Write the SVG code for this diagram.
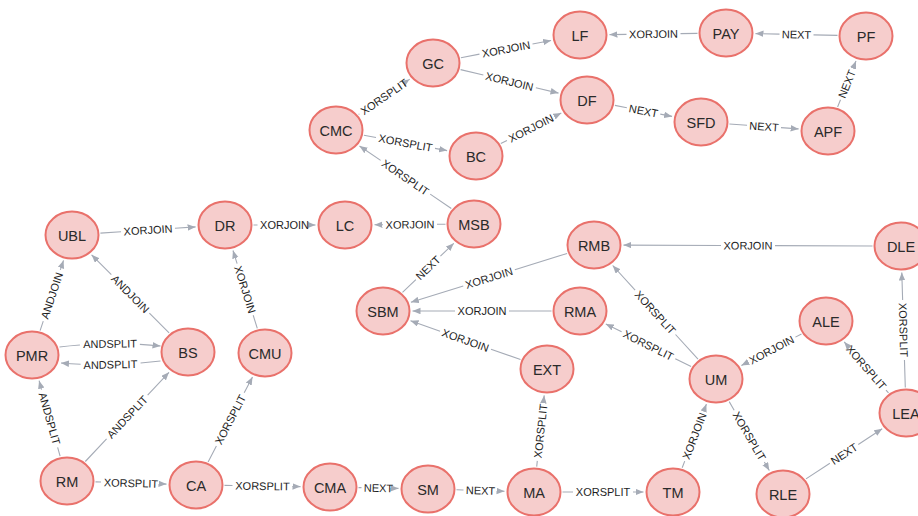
<svg xmlns="http://www.w3.org/2000/svg" width="918" height="516" viewBox="0 0 918 516">
  <defs>
    <marker id="arrow" markerUnits="userSpaceOnUse" markerWidth="9" markerHeight="7" refX="8" refY="3.25" orient="auto">
      <path d="M0,0 L8,3.25 L0,6.5 Z" fill="#a5abb6"/>
    </marker>
  </defs>
  <style>
    .bg { fill: #ffffff; }
    .edges path { fill: none; stroke: #a5abb6; stroke-width: 1.1; marker-end: url(#arrow); }
    .elabel { font-family: "Liberation Sans", Arial, sans-serif; font-size: 11px; fill: #1e1e1e; text-anchor: middle; dominant-baseline: central; }
    .node ellipse { fill: #f6cdcc; stroke: #e9716b; stroke-width: 2; }
    .node text { font-family: "Liberation Sans", Arial, sans-serif; font-size: 14.5px; fill: #2a2a2a; text-anchor: middle; dominant-baseline: central; }
  </style>
  <rect class="bg" x="0" y="0" width="918" height="516"/>

  <!-- relationships: the dash gap leaves room for the label -->
  <g id="connectors" class="edges">
    <path d="M460.9,57.7 L551.1,40.5" stroke-dasharray="18.9 54 999"/>
    <path d="M460.6,69.6 L558.5,93.1" stroke-dasharray="23.4 54 999"/>
    <path d="M358.6,114.4 L409.6,79.2" stroke-dasharray="1 60 999"/>
    <path d="M363.9,135.2 L447.1,150.6" stroke-dasharray="12.3 60 999"/>
    <path d="M500.8,143.5 L561.3,113.0" stroke-dasharray="6.9 54 999"/>
    <path d="M697.5,33.4 L609.5,34.6" stroke-dasharray="17 54 999"/>
    <path d="M837.5,35.4 L755.5,33.6" stroke-dasharray="24 34 999"/>
    <path d="M614.9,105.4 L672.1,116.4" stroke-dasharray="12.2 34 999"/>
    <path d="M729.4,124.0 L798.6,128.9" stroke-dasharray="17.7 34 999"/>
    <path d="M837.6,107.0 L856.0,61.0" stroke-dasharray="7.8 34 999"/>
    <path d="M451.3,208.5 L359.5,146.0" stroke-dasharray="25.5 60 999"/>
    <path d="M445.5,224.2 L374.5,224.8" stroke-dasharray="8.5 54 999"/>
    <path d="M253.5,225 L315.5,225" stroke-dasharray="4 54 999"/>
    <path d="M100.4,233.1 L195.6,226.9" stroke-dasharray="20.7 54 999"/>
    <path d="M257.3,328.4 L233.0,250.5" stroke-dasharray="13.8 54 999"/>
    <path d="M40.1,330.6 L63.5,260.4" stroke-dasharray="10 54 999"/>
    <path d="M169.1,332.9 L91.6,254.8" stroke-dasharray="28 54 999"/>
    <path d="M59.5,347 Q110,341 160.5,346" stroke-dasharray="20.5 60 999"/>
    <path d="M160.5,361 Q110,367 61,363" stroke-dasharray="20 60 999"/>
    <path d="M60.1,456.2 L39.1,380.7" stroke-dasharray="9.2 60 999"/>
    <path d="M85.3,461.5 L169.0,372.3" stroke-dasharray="31.1 60 999"/>
    <path d="M95.5,481.9 L166.5,484.1" stroke-dasharray="5.5 60 999"/>
    <path d="M208.1,461.9 L252.5,377.0" stroke-dasharray="17.9 60 999"/>
    <path d="M224.5,485.4 L300.5,486.6" stroke-dasharray="8 60 999"/>
    <path d="M358.5,487.6 L398.5,488.4" stroke-dasharray="3 34 999"/>
    <path d="M456.5,489.8 L504.5,491.2" stroke-dasharray="7 34 999"/>
    <path d="M536.7,466.6 L544.2,395.4" stroke-dasharray="5.8 60 999"/>
    <path d="M562.5,492 L643.5,492" stroke-dasharray="10.5 60 999"/>
    <path d="M682.2,467.8 L706.4,404.1" stroke-dasharray="7.1 54 999"/>
    <path d="M729.2,401.6 L769.3,470.5" stroke-dasharray="9.9 60 999"/>
    <path d="M806.0,478.9 L882.2,428.7" stroke-dasharray="28.6 34 999"/>
    <path d="M888.5,392.9 L844.2,341.9" stroke-dasharray="3.8 60 999"/>
    <path d="M905.3,387.5 L901.8,272.5" stroke-dasharray="27.5 60 999"/>
    <path d="M801.5,333.9 L741.4,365.6" stroke-dasharray="6.9 54 999"/>
    <path d="M698.0,359.2 L612.7,265.5" stroke-dasharray="33.4 60 999"/>
    <path d="M691.1,366.6 L605.8,323.9" stroke-dasharray="17.7 60 999"/>
    <path d="M872.5,246 L623.5,245.1" stroke-dasharray="97.5 54 999"/>
    <path d="M567.1,253.4 L410.9,302.3" stroke-dasharray="54.8 54 999"/>
    <path d="M551.5,311 L412.5,311" stroke-dasharray="42.5 54 999"/>
    <path d="M520.5,359.6 L410.5,320.7" stroke-dasharray="31.3 54 999"/>
    <path d="M402.5,292.4 L453.8,243.3" stroke-dasharray="18.5 34 999"/>

    <text class="elabel" transform="translate(506.0 49.1) rotate(-10.78)">XORJOIN</text>
    <text class="elabel" transform="translate(509.5 81.4) rotate(13.51)">XORJOIN</text>
    <text class="elabel" transform="translate(384.1 96.8) rotate(-34.63)">XORSPLIT</text>
    <text class="elabel" transform="translate(405.5 142.9) rotate(10.52)">XORSPLIT</text>
    <text class="elabel" transform="translate(531.0 128.2) rotate(-26.77)">XORJOIN</text>
    <text class="elabel" transform="translate(653.5 34.0) rotate(-0.78)">XORJOIN</text>
    <text class="elabel" transform="translate(796.5 34.5) rotate(1.23)">NEXT</text>
    <text class="elabel" transform="translate(643.5 110.9) rotate(10.92)">NEXT</text>
    <text class="elabel" transform="translate(764.0 126.5) rotate(4.05)">NEXT</text>
    <text class="elabel" transform="translate(846.8 84.0) rotate(-68.2)">NEXT</text>
    <text class="elabel" transform="translate(405.4 177.3) rotate(34.26)">XORSPLIT</text>
    <text class="elabel" transform="translate(410 224.5) rotate(-0.44)">XORJOIN</text>
    <text class="elabel" transform="translate(284.5 225)">XORJOIN</text>
    <text class="elabel" transform="translate(148.0 230.0) rotate(-3.74)">XORJOIN</text>
    <text class="elabel" transform="translate(245.2 289.5) rotate(72.65)">XORJOIN</text>
    <text class="elabel" transform="translate(51.8 295.5) rotate(-71.57)">ANDJOIN</text>
    <text class="elabel" transform="translate(130.4 293.9) rotate(45.25)">ANDJOIN</text>
    <text class="elabel" transform="translate(110 343.7) rotate(-0.6)">ANDSPLIT</text>
    <text class="elabel" transform="translate(110.4 364.5) rotate(-1.15)">ANDSPLIT</text>
    <text class="elabel" transform="translate(49.6 418.5) rotate(74.48)">ANDSPLIT</text>
    <text class="elabel" transform="translate(127.2 416.9) rotate(-46.83)">ANDSPLIT</text>
    <text class="elabel" transform="translate(131 483) rotate(1.78)">XORSPLIT</text>
    <text class="elabel" transform="translate(230.3 419.5) rotate(-62.4)">XORSPLIT</text>
    <text class="elabel" transform="translate(262.5 486) rotate(0.86)">XORSPLIT</text>
    <text class="elabel" transform="translate(378.5 488) rotate(1.17)">NEXT</text>
    <text class="elabel" transform="translate(480.5 490.5) rotate(1.62)">NEXT</text>
    <text class="elabel" transform="translate(540.5 431.0) rotate(-83.97)">XORSPLIT</text>
    <text class="elabel" transform="translate(603 492)">XORSPLIT</text>
    <text class="elabel" transform="translate(694.3 436.0) rotate(-69.16)">XORJOIN</text>
    <text class="elabel" transform="translate(749.3 436.1) rotate(59.78)">XORSPLIT</text>
    <text class="elabel" transform="translate(844.1 453.8) rotate(-33.36)">NEXT</text>
    <text class="elabel" transform="translate(866.3 367.4) rotate(49.0)">XORSPLIT</text>
    <text class="elabel" transform="translate(903.5 330) rotate(88.29)">XORSPLIT</text>
    <text class="elabel" transform="translate(771.5 349.8) rotate(-27.8)">XORJOIN</text>
    <text class="elabel" transform="translate(655.3 312.4) rotate(47.68)">XORSPLIT</text>
    <text class="elabel" transform="translate(648.4 345.2) rotate(26.57)">XORSPLIT</text>
    <text class="elabel" transform="translate(748 245.5) rotate(0.19)">XORJOIN</text>
    <text class="elabel" transform="translate(489.0 277.9) rotate(-17.37)">XORJOIN</text>
    <text class="elabel" transform="translate(482 311)">XORJOIN</text>
    <text class="elabel" transform="translate(465.5 340.2) rotate(19.48)">XORJOIN</text>
    <text class="elabel" transform="translate(428.1 267.8) rotate(-43.71)">NEXT</text>
  </g>

  <!-- nodes -->
  <g id="n-LF" class="node"><ellipse cx="580" cy="35" rx="26.5" ry="23.5"/><text x="580" y="36">LF</text></g>
  <g id="n-PAY" class="node"><ellipse cx="726" cy="33" rx="26.5" ry="23.5"/><text x="726" y="34">PAY</text></g>
  <g id="n-PF" class="node"><ellipse cx="866" cy="36" rx="26.5" ry="23.5"/><text x="866" y="37">PF</text></g>
  <g id="n-GC" class="node"><ellipse cx="433" cy="63" rx="26.5" ry="23.5"/><text x="433" y="64">GC</text></g>
  <g id="n-DF" class="node"><ellipse cx="587" cy="100" rx="26.5" ry="23.5"/><text x="587" y="101">DF</text></g>
  <g id="n-SFD" class="node"><ellipse cx="701" cy="122" rx="26.5" ry="23.5"/><text x="701" y="123">SFD</text></g>
  <g id="n-APF" class="node"><ellipse cx="828" cy="131" rx="26.5" ry="23.5"/><text x="828" y="132">APF</text></g>
  <g id="n-CMC" class="node"><ellipse cx="336" cy="130" rx="26.5" ry="23.5"/><text x="336" y="131">CMC</text></g>
  <g id="n-BC" class="node"><ellipse cx="476" cy="156" rx="26.5" ry="23.5"/><text x="476" y="157">BC</text></g>
  <g id="n-UBL" class="node"><ellipse cx="72" cy="235" rx="26.5" ry="23.5"/><text x="72" y="236">UBL</text></g>
  <g id="n-DR" class="node"><ellipse cx="225" cy="225" rx="26.5" ry="23.5"/><text x="225" y="226">DR</text></g>
  <g id="n-LC" class="node"><ellipse cx="345" cy="225" rx="26.5" ry="23.5"/><text x="345" y="226">LC</text></g>
  <g id="n-MSB" class="node"><ellipse cx="474" cy="224" rx="26.5" ry="23.5"/><text x="474" y="225">MSB</text></g>
  <g id="n-RMB" class="node"><ellipse cx="594" cy="245" rx="26.5" ry="23.5"/><text x="594" y="246">RMB</text></g>
  <g id="n-DLE" class="node"><ellipse cx="901" cy="246" rx="26.5" ry="23.5"/><text x="901" y="247">DLE</text></g>
  <g id="n-SBM" class="node"><ellipse cx="383" cy="311" rx="26.5" ry="23.5"/><text x="383" y="312">SBM</text></g>
  <g id="n-RMA" class="node"><ellipse cx="580" cy="311" rx="26.5" ry="23.5"/><text x="580" y="312">RMA</text></g>
  <g id="n-ALE" class="node"><ellipse cx="826" cy="321" rx="26.5" ry="23.5"/><text x="826" y="322">ALE</text></g>
  <g id="n-PMR" class="node"><ellipse cx="32" cy="355" rx="26.5" ry="23.5"/><text x="32" y="356">PMR</text></g>
  <g id="n-BS" class="node"><ellipse cx="188" cy="352" rx="26.5" ry="23.5"/><text x="188" y="353">BS</text></g>
  <g id="n-CMU" class="node"><ellipse cx="265" cy="353" rx="26.5" ry="23.5"/><text x="265" y="354">CMU</text></g>
  <g id="n-EXT" class="node"><ellipse cx="547" cy="369" rx="26.5" ry="23.5"/><text x="547" y="370">EXT</text></g>
  <g id="n-UM" class="node"><ellipse cx="716" cy="379" rx="26.5" ry="23.5"/><text x="716" y="380">UM</text></g>
  <g id="n-LEA" class="node"><ellipse cx="906" cy="413" rx="26.5" ry="23.5"/><text x="906" y="414">LEA</text></g>
  <g id="n-RM" class="node"><ellipse cx="67" cy="481" rx="26.5" ry="23.5"/><text x="67" y="482">RM</text></g>
  <g id="n-CA" class="node"><ellipse cx="196" cy="485" rx="26.5" ry="23.5"/><text x="196" y="486">CA</text></g>
  <g id="n-CMA" class="node"><ellipse cx="330" cy="487" rx="26.5" ry="23.5"/><text x="330" y="488">CMA</text></g>
  <g id="n-SM" class="node"><ellipse cx="428" cy="489" rx="26.5" ry="23.5"/><text x="428" y="490">SM</text></g>
  <g id="n-MA" class="node"><ellipse cx="534" cy="492" rx="26.5" ry="23.5"/><text x="534" y="493">MA</text></g>
  <g id="n-TM" class="node"><ellipse cx="673" cy="492" rx="26.5" ry="23.5"/><text x="673" y="493">TM</text></g>
  <g id="n-RLE" class="node"><ellipse cx="783" cy="494" rx="26.5" ry="23.5"/><text x="783" y="495">RLE</text></g>
</svg>
